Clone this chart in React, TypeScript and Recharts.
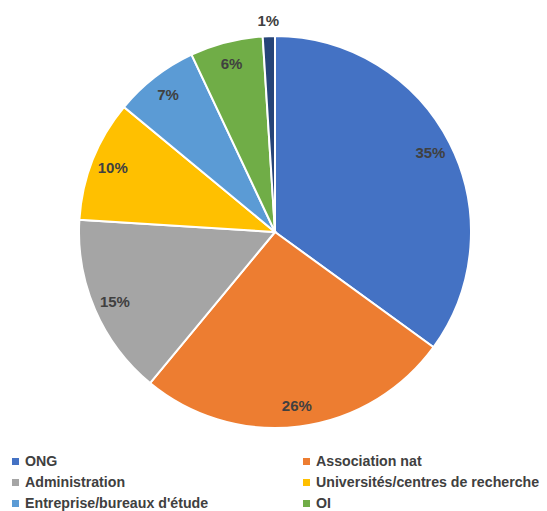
import React from "react"
import { PieChart, Pie, Cell } from "recharts"

const categories = [
  "ONG",
  "Association nat",
  "Administration",
  "Universités/centres de recherche",
  "Entreprise/bureaux d'étude",
  "OI",
  "Autres",
]
const shares = [35, 26, 15, 10, 7, 6, 1]
const colors = ["#4472C4", "#ED7D31", "#A5A5A5", "#FFC000", "#5B9BD5", "#70AD47", "#264478"]
// the picture's legend is cut after the third row, so only six entries show
const visibleLegendCount = 6

const data = categories.map((name, i) => ({ name, value: shares[i] }))

const RAD = Math.PI / 180
const FONT = "'Liberation Sans', Arial, sans-serif"

function renderLabel(props: any) {
  const { cx, cy, midAngle, outerRadius, value } = props
  const r = value < 3 ? outerRadius + 16 : outerRadius * 0.89
  const x = cx + r * Math.cos(-midAngle * RAD)
  const y = cy + r * Math.sin(-midAngle * RAD)
  return (
    <text
      x={x}
      y={y}
      fill="#404040"
      textAnchor="middle"
      dominantBaseline="central"
      fontSize={15}
      fontWeight="bold"
      fontFamily={FONT}
    >
      {value}%
    </text>
  )
}

export default function App() {
  return (
    <div style={{ position: "absolute", left: 0, top: 0, width: 547, height: 511, background: "#fff", overflow: "hidden" }}>
      <PieChart width={547} height={440} margin={{ top: 0, right: 0, bottom: 0, left: 0 }}>
        <Pie
          data={data}
          dataKey="value"
          nameKey="name"
          cx={275}
          cy={232}
          outerRadius={196}
          startAngle={90}
          endAngle={-270}
          stroke="#fff"
          strokeWidth={2}
          label={renderLabel}
          labelLine={false}
          isAnimationActive={false}
        >
          {data.map((d, i) => (
            <Cell key={d.name} fill={colors[i]} />
          ))}
        </Pie>
      </PieChart>
      {categories.slice(0, visibleLegendCount).map((name, i) => (
        <div
          key={name}
          style={{
            position: "absolute",
            left: i % 2 === 0 ? 12 : 303,
            top: 452 + Math.floor(i / 2) * 21,
            height: 18,
            display: "flex",
            alignItems: "center",
            whiteSpace: "nowrap",
            fontFamily: FONT,
            fontSize: 14.2,
            fontWeight: "bold",
            color: "#404040",
          }}
        >
          <span style={{ display: "inline-block", width: 7, height: 7, background: colors[i], marginRight: 6 }} />
          {name}
        </div>
      ))}
    </div>
  )
}
